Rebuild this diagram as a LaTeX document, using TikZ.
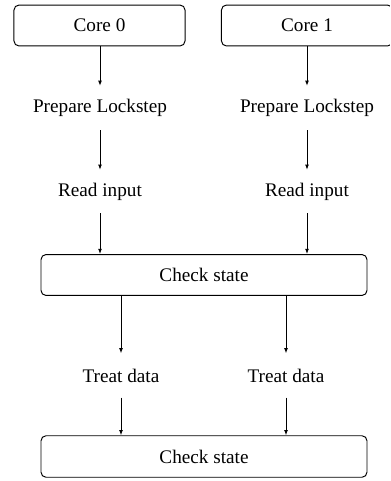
\documentclass[tikz,border=0pt]{standalone}
\usepackage{fontspec}
\setmainfont{Liberation Serif}
\usetikzlibrary{arrows.meta}
\begin{document}
\begin{tikzpicture}[x=0.5203pt,y=-0.5203pt,
  box/.style={draw,rounded corners=2.6pt,minimum height=21.3pt,inner sep=0pt,line width=0.5pt},
  lbl/.style={inner sep=0pt,minimum height=22.6pt},
  arr/.style={-{Latex[length=2.7pt,width=2pt]},line width=0.5pt},
  font=\fontsize{10}{12}\selectfont]
\useasboundingbox (0,0) rectangle (390,481);
\begin{scope}
\clip (0,0) rectangle (390,481);
\node[box,minimum width=89pt] (c0) at (99.5,25.5) {Core 0};
\node[box,minimum width=89pt] (c1) at (307,25.5) {Core 1};
\node[lbl] (p0) at (100,108) {Prepare Lockstep};
\node[lbl] (p1) at (307,108) {Prepare Lockstep};
\node[lbl,minimum height=22.2pt] (r0) at (100,191.5) {Read input};
\node[lbl,minimum height=22.2pt] (r1) at (307,191.5) {Read input};
\node[box,minimum width=169.6pt] (cs1) at (204,275) {Check state};
\node[lbl] (t0) at (121,375.5) {Treat data};
\node[lbl] (t1) at (286,375.5) {Treat data};
\node[box,minimum width=169.6pt,minimum height=21.6pt] (cs2) at (204,456.5) {Check state};
\draw[arr] (c0.south -| p0.north) -- (p0.north);
\draw[arr] (c1.south -| p1.north) -- (p1.north);
\draw[arr] (p0) -- (r0);
\draw[arr] (p1) -- (r1);
\draw[arr] (r0.south) -- (r0.south |- cs1.north);
\draw[arr] (r1.south) -- (r1.south |- cs1.north);
\draw[arr] (cs1.south -| t0.north) -- (t0.north);
\draw[arr] (cs1.south -| t1.north) -- (t1.north);
\draw[arr] (t0.south) -- (t0.south |- cs2.north);
\draw[arr] (t1.south) -- (t1.south |- cs2.north);
\end{scope}
\end{tikzpicture}
\end{document}
